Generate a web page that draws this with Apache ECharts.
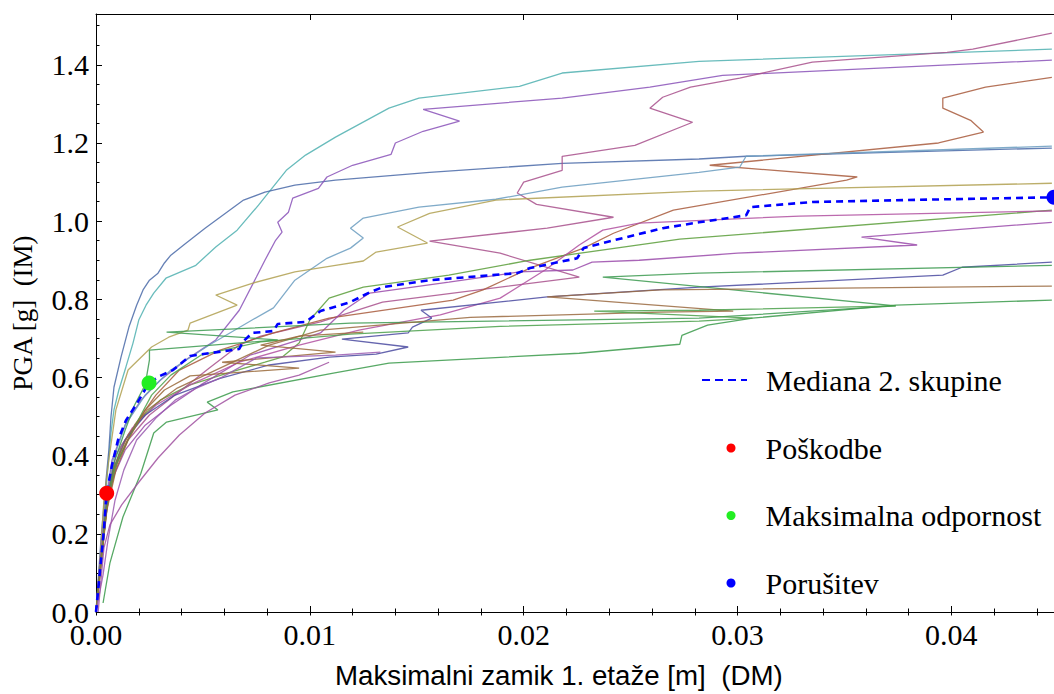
<!DOCTYPE html>
<html>
<head>
<meta charset="utf-8">
<script src="https://cdn.jsdelivr.net/npm/echarts@6.0.0/dist/echarts.min.js"></script>
<style>
html,body{margin:0;padding:0;background:#fff;}
#chart{width:1054px;height:694px;}
</style>
</head>
<body>
<div id="chart"></div>
<script>
// ---- axis ranges / ticks ----
const X_MAX = 0.0448;
const Y_MAX = 1.53;
const X_TICK = 0.01, X_MINOR = 0.002;
const Y_TICK = 0.2, Y_MINOR = 0.05;

// ---- individual IDA curves [drift (m), PGA (g)] ----
const curveTeal = [[0,0],[0.00028,0.184],[0.00056,0.371],[0.0007,0.458],[0.00084,0.517],[0.00107,0.568],[0.0014,0.627],[0.00173,0.688],[0.002,0.747],[0.00234,0.785],[0.0027,0.816],[0.00327,0.854],[0.00467,0.887],[0.0056,0.934],[0.0066,0.977],[0.0076,1.041],[0.0089,1.13],[0.0098,1.169],[0.0112,1.215],[0.0137,1.289],[0.0151,1.315],[0.0198,1.345],[0.0218,1.379],[0.0282,1.409],[0.0447,1.44]];
const curveSteel = [[0,0],[0.00023,0.184],[0.00047,0.338],[0.0006,0.414],[0.0007,0.499],[0.00084,0.575],[0.00117,0.652],[0.00154,0.729],[0.0019,0.785],[0.0022,0.824],[0.0025,0.849],[0.0029,0.867],[0.0032,0.893],[0.0035,0.913],[0.0041,0.939],[0.0051,0.982],[0.0069,1.054],[0.0079,1.074],[0.0093,1.092],[0.0112,1.105],[0.0156,1.125],[0.0218,1.148],[0.0282,1.159],[0.0304,1.166],[0.0447,1.187]];
const curvePurpleTop = [[0,0],[0.00019,0.133],[0.00047,0.286],[0.00075,0.389],[0.00136,0.478],[0.0021,0.542],[0.003,0.593],[0.0042,0.645],[0.0056,0.696],[0.0067,0.772],[0.0075,0.857],[0.0079,0.9],[0.0084,0.951],[0.0087,0.972],[0.0085,0.997],[0.009,1.023],[0.0092,1.059],[0.0104,1.084],[0.0108,1.113],[0.012,1.143],[0.0138,1.171],[0.014,1.2],[0.0153,1.23],[0.017,1.256],[0.0153,1.286],[0.0218,1.315],[0.0259,1.343],[0.0293,1.373],[0.0447,1.412]];
const curveMagentaTop = [[0,0],[0.00023,0.133],[0.00047,0.261],[0.00084,0.363],[0.0015,0.44],[0.0025,0.504],[0.0037,0.555],[0.0053,0.624],[0.0067,0.683],[0.0077,0.706],[0.0105,0.742],[0.0134,0.793],[0.0226,0.857],[0.0189,0.918],[0.0156,0.949],[0.0211,0.982],[0.0242,1.01],[0.0206,1.043],[0.0197,1.072],[0.02,1.1],[0.0218,1.13],[0.0218,1.166],[0.0252,1.194],[0.0279,1.253],[0.0259,1.289],[0.0265,1.317],[0.0278,1.343],[0.0301,1.366],[0.0335,1.407],[0.0398,1.432],[0.041,1.44],[0.0447,1.481]];
const curveBrownTop = [[0,0],[0.00028,0.159],[0.00056,0.286],[0.00103,0.389],[0.0018,0.478],[0.0028,0.555],[0.0039,0.619],[0.0058,0.67],[0.0083,0.714],[0.0109,0.752],[0.0167,0.798],[0.0181,0.824],[0.0203,0.88],[0.0228,0.931],[0.0242,0.969],[0.027,1.028],[0.0351,1.105],[0.0356,1.113],[0.0287,1.143],[0.0394,1.2],[0.0415,1.228],[0.0409,1.258],[0.0396,1.289],[0.0396,1.315],[0.0416,1.343],[0.0447,1.368]];
const curveLightBlue = [[0,0],[0.00023,0.133],[0.00047,0.274],[0.0008,0.389],[0.00136,0.478],[0.0023,0.555],[0.0035,0.619],[0.0053,0.683],[0.0073,0.747],[0.0083,0.778],[0.0093,0.849],[0.0108,0.905],[0.0119,0.931],[0.0125,0.957],[0.0119,0.982],[0.0125,1.008],[0.0151,1.036],[0.0187,1.056],[0.0218,1.087],[0.0282,1.125],[0.0301,1.138],[0.0304,1.166],[0.0447,1.192]];
const curveOlive = [[0,0],[0.00019,0.133],[0.00037,0.286],[0.0006,0.389],[0.00093,0.517],[0.0015,0.619],[0.0026,0.678],[0.0034,0.703],[0.0043,0.721],[0.0044,0.739],[0.0066,0.785],[0.0056,0.811],[0.0073,0.841],[0.0093,0.87],[0.0112,0.887],[0.0125,0.898],[0.0131,0.921],[0.0155,0.944],[0.0141,0.985],[0.0156,1.02],[0.0187,1.054],[0.0282,1.077],[0.0447,1.097]];
const curveGreenRise = [[0,0],[0.00023,0.12],[0.00047,0.248],[0.00075,0.35],[0.0012,0.427],[0.002,0.491],[0.003,0.542],[0.0044,0.581],[0.0063,0.614],[0.0079,0.639],[0.0087,0.652],[0.0095,0.688],[0.01,0.747],[0.0109,0.803],[0.0125,0.831],[0.0165,0.862],[0.0203,0.9],[0.0273,0.954],[0.0447,1.028]];
const curveViolet = [[0,0],[0.00019,0.107],[0.00042,0.235],[0.00075,0.338],[0.00136,0.414],[0.0023,0.478],[0.0035,0.529],[0.0049,0.581],[0.0072,0.657],[0.0095,0.696],[0.0105,0.714],[0.0116,0.772],[0.0128,0.816],[0.0165,0.844],[0.0198,0.87],[0.0223,0.875],[0.0232,0.895],[0.0254,0.9],[0.03,0.918],[0.0384,0.939],[0.0358,0.959],[0.0447,0.997]];
const curvePink = [[0,0],[0.00023,0.146],[0.00051,0.299],[0.00093,0.402],[0.0017,0.471],[0.0028,0.529],[0.0044,0.581],[0.0067,0.639],[0.0095,0.683],[0.0123,0.721],[0.0161,0.76],[0.0189,0.803],[0.021,0.875],[0.0226,0.939],[0.0237,0.977],[0.0254,0.995],[0.0329,1.013],[0.0447,1.026]];
const curveIndigo = [[0,0],[0.00023,0.133],[0.00047,0.261],[0.0008,0.363],[0.00136,0.44],[0.0023,0.504],[0.0037,0.555],[0.0058,0.598],[0.0081,0.632],[0.0109,0.652],[0.0131,0.66],[0.0146,0.678],[0.0115,0.698],[0.0146,0.714],[0.0148,0.729],[0.0157,0.752],[0.0152,0.772],[0.0211,0.806],[0.0282,0.831],[0.0396,0.862],[0.0405,0.882],[0.0447,0.895]];
const curveGreenZig = [[0,0],[0.00023,0.133],[0.00051,0.286],[0.00089,0.389],[0.00136,0.465],[0.0018,0.529],[0.0023,0.581],[0.0025,0.645],[0.0025,0.67],[0.0085,0.696],[0.0033,0.716],[0.0119,0.739],[0.0282,0.752],[0.0374,0.783],[0.0237,0.857],[0.0282,0.867],[0.0447,0.887]];
const curveBrownMid = [[0,0],[0.00023,0.12],[0.00051,0.274],[0.00089,0.376],[0.0015,0.453],[0.0024,0.517],[0.0038,0.573],[0.0058,0.624],[0.0081,0.683],[0.0105,0.721],[0.0175,0.754],[0.0264,0.767],[0.0298,0.77],[0.0211,0.806],[0.0264,0.824],[0.0447,0.834]];
const curveGreenLow = [[0.00033,0.023],[0.00065,0.125],[0.00126,0.243],[0.0021,0.355],[0.0027,0.458],[0.0033,0.486],[0.0057,0.517],[0.0052,0.537],[0.0064,0.563],[0.0111,0.611],[0.0137,0.637],[0.0226,0.662],[0.0273,0.685],[0.0274,0.708],[0.0286,0.734],[0.0307,0.752],[0.0374,0.785],[0.0447,0.798]];
const curveGreenFlat = [[0,0],[0.00023,0.12],[0.00051,0.274],[0.00093,0.376],[0.0015,0.44],[0.0021,0.504],[0.0026,0.555],[0.0035,0.606],[0.0049,0.657],[0.0077,0.691],[0.0119,0.711],[0.0189,0.731],[0.0282,0.744],[0.0307,0.752],[0.0233,0.77],[0.0282,0.772],[0.0374,0.783]];
const curveBrownLow = [[0,0],[0.00023,0.12],[0.00051,0.261],[0.00093,0.363],[0.0015,0.44],[0.0023,0.517],[0.0032,0.568],[0.0044,0.604],[0.0095,0.624],[0.0059,0.639],[0.0112,0.665],[0.0077,0.683],[0.0095,0.706],[0.0125,0.716]];
const curvePurpleLowA = [[0,0],[0.00033,0.095],[0.00056,0.184],[0.00089,0.286],[0.0013,0.363],[0.0019,0.44],[0.0028,0.496],[0.0037,0.542],[0.0047,0.573],[0.0059,0.601],[0.0075,0.65],[0.0112,0.657],[0.0133,0.665]];
const curvePurpleLowB = [[0.0001,0],[0.00019,0.056],[0.00037,0.164],[0.00065,0.223],[0.0012,0.274],[0.002,0.332],[0.0029,0.394],[0.0039,0.453],[0.0051,0.509],[0.0065,0.555],[0.0081,0.586],[0.0095,0.606],[0.0109,0.639]];

// ---- median of group 2 ----
const medianCurve = [[0,0],[0.00019,0.107],[0.00037,0.21],[0.0005,0.304],[0.00075,0.376],[0.00103,0.44],[0.0014,0.49],[0.00187,0.53],[0.00248,0.586],[0.003,0.604],[0.0036,0.619],[0.0044,0.655],[0.0067,0.673],[0.0069,0.693],[0.0073,0.714],[0.0083,0.719],[0.0085,0.737],[0.0098,0.742],[0.0105,0.77],[0.0119,0.793],[0.0128,0.818],[0.0134,0.831],[0.0156,0.849],[0.0197,0.867],[0.0203,0.88],[0.0225,0.905],[0.0228,0.931],[0.0237,0.944],[0.0265,0.982],[0.0282,0.997],[0.0304,1.015],[0.0306,1.036],[0.0335,1.049],[0.0398,1.056],[0.0448,1.061]];

// ---- limit states on the median ----
const pointDamage = [[0.0005, 0.304]];
const pointMaxResistance = [[0.00248, 0.586]];
const pointCollapse = [[0.0448, 1.061]];

const curveNames = ['c01','c02','c03','c04','c05','c06','c07','c08','c09','c10','c11','c12','c13','c14','c15','c16','c17','c18'];
const curveSets = [curveTeal, curveSteel, curvePurpleTop, curveMagentaTop, curveBrownTop, curveLightBlue, curveOlive, curveGreenRise, curveViolet, curvePink, curveIndigo, curveGreenZig, curveBrownMid, curveGreenLow, curveGreenFlat, curveBrownLow, curvePurpleLowA, curvePurpleLowB];
const legendNames = ['Mediana 2. skupine', 'Poškodbe', 'Maksimalna odpornost', 'Porušitev'];
const xTitle = 'Maksimalni zamik 1. etaže [m]  (DM)';
const yTitle = 'PGA [g]  (IM)';

// ---- styles ----
const curveColors = ['#4fb0b0','#4a6aa8','#8a52b8','#a8508c','#a85a3c','#6a9cc0','#b0a050','#5a9e3a','#9a4aaa','#b050a0','#4a4aa0','#3c9a50','#9a6a40','#3a9a4a','#4aa04a','#9a6a3a','#9a5ab0','#a050a0'];
const serif = 'Liberation Serif';
const dashIcon = 'path://M0,0h8v2.2h-8z M13,0h8v2.2h-8z M26,0h8v2.2h-8z M39,0h6v2.2h-6z';

function isMult(v, step) { const r = v / step; return Math.abs(r - Math.round(r)) < 1e-6; }

const chart = echarts.init(document.getElementById('chart'), null, {renderer: 'svg'});

const series = curveSets.map((d, i) => ({
  name: curveNames[i], type: 'line', data: d, symbol: 'none', showSymbol: false, silent: true,
  lineStyle: {color: curveColors[i], width: 1.3, opacity: 0.85}, itemStyle: {color: curveColors[i]}, z: 2, clip: true
}));
series.push({
  name: legendNames[0], type: 'line', data: medianCurve, symbol: 'none', showSymbol: false, silent: true,
  lineStyle: {color: '#0000ff', width: 2.6, type: [7, 5]}, itemStyle: {color: '#0000ff'}, z: 5
});
series.push({name: legendNames[1], type: 'scatter', data: pointDamage, symbol: 'circle', symbolSize: 15, itemStyle: {color: '#ff0000', opacity: 1}, z: 10, clip: false});
series.push({name: legendNames[2], type: 'scatter', data: pointMaxResistance, symbol: 'circle', symbolSize: 15, itemStyle: {color: '#22ee22', opacity: 1}, z: 10, clip: false});
series.push({name: legendNames[3], type: 'scatter', data: pointCollapse, symbol: 'circle', symbolSize: 15, itemStyle: {color: '#0000ff', opacity: 1}, z: 10, clip: false});

const axisCommonX = {type: 'value', min: 0, max: X_MAX, splitLine: {show: false}, gridIndex: 0};
const axisCommonY = {type: 'value', min: 0, max: Y_MAX, splitLine: {show: false}, gridIndex: 0};
const black = {color: '#000', width: 1};

const option = {
  animation: false,
  backgroundColor: '#ffffff',
  grid: {left: 96, top: 14, right: 0, height: 598, outerBoundsMode: 'none', containLabel: false},
  title: {text: xTitle, left: 335, top: 661, padding: 0, textStyle: {fontFamily: 'Liberation Sans', fontSize: 27.7, fontWeight: 'normal', color: '#000'}},
  legend: [
    {data: [{name: legendNames[0], icon: dashIcon}], left: 702, top: 365, padding: 0, orient: 'vertical', itemWidth: 45, itemHeight: 14,
     textStyle: {fontFamily: serif, fontSize: 30, lineHeight: 30, color: '#000', padding: [0, 0, 0, 14]}, selectedMode: false},
    {data: legendNames.slice(1).map(n => ({name: n, icon: 'circle'})), left: 726.5, top: 433, padding: 0, orient: 'vertical', itemWidth: 9, itemHeight: 9, itemGap: 37.5,
     textStyle: {fontFamily: serif, fontSize: 30, lineHeight: 30, color: '#000', padding: [0, 0, 0, 25]}, selectedMode: false}
  ],
  xAxis: [
    Object.assign({}, axisCommonX, {position: 'bottom', interval: X_TICK,
      axisLine: {show: true, onZero: false, lineStyle: black},
      axisTick: {show: true, inside: true, length: 6, lineStyle: black},
      axisLabel: {show: true, margin: 12, fontFamily: serif, fontSize: 30, lineHeight: 20, color: '#000', showMaxLabel: false,
        formatter: v => isMult(v, X_TICK) ? v.toFixed(2) : ''}}),
    Object.assign({}, axisCommonX, {position: 'bottom', interval: X_MINOR,
      axisLine: {show: false}, axisTick: {show: true, inside: true, length: 3.5, lineStyle: black}, axisLabel: {show: false}}),
    Object.assign({}, axisCommonX, {position: 'top', interval: X_TICK,
      axisLine: {show: true, onZero: false, lineStyle: black},
      axisTick: {show: true, inside: true, length: 6, lineStyle: black}, axisLabel: {show: false}}),
    Object.assign({}, axisCommonX, {position: 'top', interval: X_MINOR,
      axisLine: {show: false}, axisTick: {show: true, inside: true, length: 3.5, lineStyle: black}, axisLabel: {show: false}})
  ],
  yAxis: [
    Object.assign({}, axisCommonY, {position: 'left', interval: Y_TICK,
      axisLine: {show: true, onZero: false, lineStyle: black},
      axisTick: {show: true, inside: true, length: 6, lineStyle: black},
      axisLabel: {show: true, margin: 7, fontFamily: serif, fontSize: 30, lineHeight: 20, color: '#000', showMaxLabel: false,
        formatter: v => isMult(v, Y_TICK) ? v.toFixed(1) : ''},
      name: yTitle, nameLocation: 'middle', nameRotate: 90, nameGap: 60,
      nameTextStyle: {fontFamily: serif, fontSize: 27, color: '#000'}}),
    Object.assign({}, axisCommonY, {position: 'left', interval: Y_MINOR,
      axisLine: {show: false}, axisTick: {show: true, inside: true, length: 3.5, lineStyle: black}, axisLabel: {show: false}})
  ],
  series: series
};
chart.setOption(option);
</script>
</body>
</html>
